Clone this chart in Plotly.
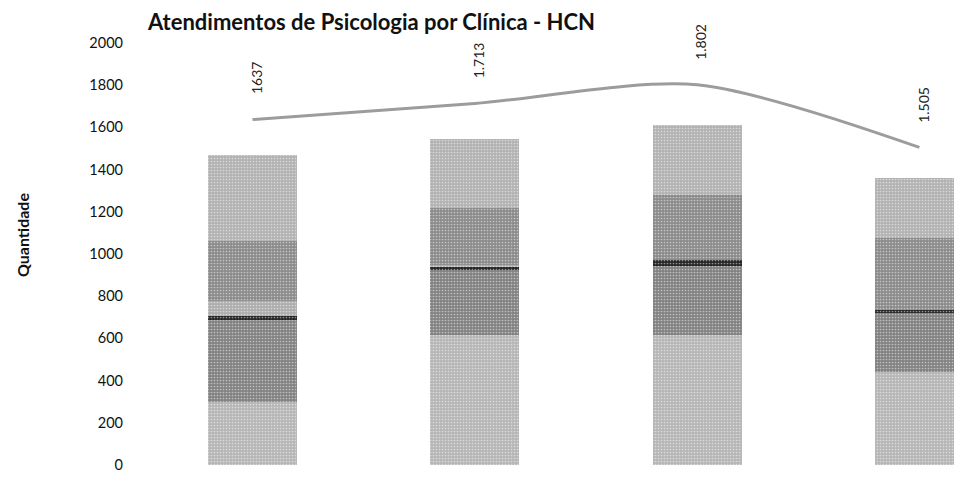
import plotly.graph_objects as go

# Data
clinicas = ["Clínica 1", "Clínica 2", "Clínica 3", "Clínica 4"]
seg_base = [300, 614, 614, 443]        # light bottom segment
seg_escuro = [385, 309, 328, 276]      # dark segment
seg_linha = [19, 14, 28, 14]           # thin black band
seg_faixa = [71, 10, 0, 0]             # light stripe
seg_medio = [286, 271, 309, 343]       # upper dark segment
seg_topo = [409, 325, 333, 286]        # light top segment
totais = [1637, 1713, 1802, 1505]
rotulos = ["1637", "1.713", "1.802", "1.505"]

x = list(range(len(clinicas)))

segments = [
    (seg_base, "#b6b6b6"),
    (seg_escuro, "#828282"),
    (seg_linha, "#262626"),
    (seg_faixa, "#adadad"),
    (seg_medio, "#8b8b8b"),
    (seg_topo, "#b2b2b2"),
]

# page body has an 8px margin, so the figure is 8px smaller and shifted
W, H = 954, 471
L, T, B = 133, 35, 14

fig = go.Figure()
for vals, col in segments:
    fig.add_trace(go.Bar(
        x=x, y=vals, width=0.4,
        marker=dict(color=col, line=dict(width=0),
                    pattern=dict(shape=".", fgcolor="#ffffff", size=3, solidity=0.25)),
        showlegend=False, hoverinfo="skip",
    ))

fig.add_trace(go.Scatter(
    x=x, y=totais, mode="lines",
    line=dict(color="#9c9c9c", width=3, shape="spline", smoothing=0.8),
    showlegend=False,
))

for xi, v, t in zip(x, totais, rotulos):
    fig.add_annotation(
        x=xi, y=v, text=t, showarrow=False, textangle=-90,
        xanchor="center", yanchor="bottom", yshift=23, xshift=4,
        font=dict(family="Lato", size=14, color="#222222"),
    )

fig.add_annotation(
    xref="paper", yref="paper", x=-(L - 14) / (W - L), y=0.545,
    text="<b>Quantidade</b>", showarrow=False, textangle=-90,
    xanchor="center", yanchor="middle",
    font=dict(family="Lato", size=16, color="#111111"),
)

fig.update_layout(
    width=W, height=H,
    margin=dict(l=L, r=0, t=T, b=B),
    paper_bgcolor="white", plot_bgcolor="white",
    barmode="stack",
    title=dict(text="<b>Atendimentos de Psicologia por Clínica - HCN</b>",
               x=140 / W, xanchor="left", y=1 - 14 / H, yanchor="middle",
               font=dict(family="Lato", size=22, color="#111111")),
    xaxis=dict(range=[-0.5016, 3.1917], showticklabels=False, showgrid=False,
               zeroline=False, showline=False, ticks=""),
    yaxis=dict(range=[0, 2000], dtick=200, showgrid=False, zeroline=False,
               showline=False, ticks="", ticklabelstandoff=17,
               tickfont=dict(family="Lato", size=14.5, color="#111111")),
)

fig.write_html("out.html")
